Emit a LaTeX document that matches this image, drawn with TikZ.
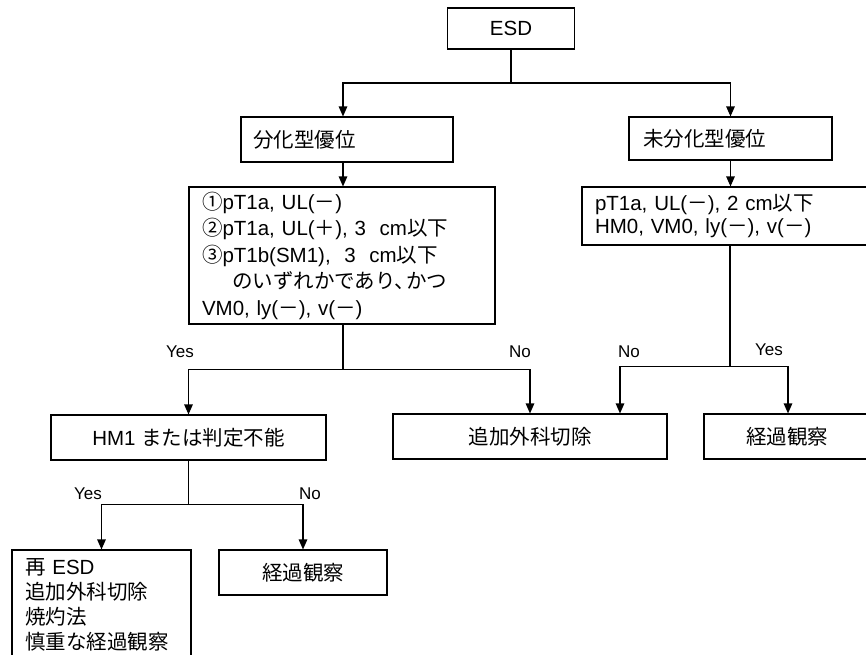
\documentclass[tikz,border=0pt]{standalone}
\usepackage{fontspec}
\setmainfont{Liberation Sans}
\newfontfamily\cjk{Noto Sans CJK JP}
\newcommand\J[1]{{\cjk #1}}
\usetikzlibrary{arrows.meta}
\begin{document}
\begin{tikzpicture}[x=1pt,y=-1pt,
  box/.style={draw,line width=1.1pt,inner sep=0pt,font=\fontsize{20.5}{26.5}\selectfont},
  lbox/.style={box,align=left,inner xsep=13pt},
  ln/.style={line width=1.2pt},
  arr/.style={line width=1.2pt,-{Triangle[length=10pt,width=8.5pt]}},
  lbl/.style={font=\fontsize{17}{20}\selectfont,inner sep=0pt}]
\useasboundingbox (0,0) rectangle (866,654);

\node[box,minimum width=127pt,minimum height=41pt] (esd) at (511,28.5) {ESD};
\node[lbox,inner xsep=12pt,text width=188pt,minimum height=45pt] (bunka) at (347,139.5) {\J{分化型優位}};
\node[lbox,inner xsep=14pt,text width=175pt,minimum height=43pt] (mibunka) at (730.5,138.5) {\J{未分化型優位}};
\node[lbox,text width=280pt,minimum height=137pt] (cond1) at (342,255.5) {%
\J{①}pT1a, UL(\J{－})\\
\J{②}pT1a, UL(\J{＋}), 3\ \ cm\J{以下}\\
\J{③}pT1b(SM1),\ \ 3\ \ cm\J{以下}\\
\hspace*{30pt}\J{のいずれかであり、\kern-9pt かつ}\\
VM0, ly(\J{－}), v(\J{－})};
\node[lbox,text width=262pt,minimum height=58pt,font=\fontsize{20.5}{23.5}\selectfont] (cond2) at (726,216) {%
pT1a, UL(\J{－}), 2 cm\J{以下}\\
HM0, VM0, ly(\J{－}), v(\J{－})};
\node[box,minimum width=275pt,minimum height=45pt] (hm1) at (188.5,437.5) {HM1 \J{または判定不能}};
\node[box,minimum width=274pt,minimum height=45pt] (surg) at (530,436.5) {\J{追加外科切除}};
\node[box,minimum width=166pt,minimum height=45pt] (obs1) at (787,436.5) {\J{経過観察}};
\node[lbox,text width=153pt,minimum height=110pt,font=\fontsize{20.5}{25}\selectfont] (reesd) at (101.5,605) {%
\J{再} ESD\\
\J{追加外科切除}\\
\J{焼灼法}\\
\J{慎重な経過観察}};
\node[box,minimum width=168pt,minimum height=45pt] (obs2) at (303,572.5) {\J{経過観察}};

\coordinate (j1) at (511,83);
\draw[ln] (esd.south) -- (j1);
\draw[arr] (j1) -| ([xshift=-4pt]bunka.north);
\draw[arr] (j1) -| (mibunka.north);
\draw[arr] ([xshift=-4pt]bunka.south) -- ([xshift=1pt]cond1.north);
\draw[arr] (mibunka.south) -- (mibunka.south |- cond2.north);

\draw[ln] ([xshift=1pt]cond1.south) -- ++(0,45) coordinate (j2);
\draw[arr] (j2) -| (hm1.north);
\draw[arr] (j2) -| (surg.north);
\node[lbl] (y1) at (180,352) {Yes};
\node[lbl] (n1) at (520,352) {No};

\draw[ln] ([xshift=4pt]cond2.south) -- ++(0,121) coordinate (j3);
\draw[arr] (j3) -| ([xshift=90pt]surg.north);
\draw[arr] (j3) -| ([xshift=1pt]obs1.north);
\node[lbl] (n2) at (629,352) {No};
\node[lbl] (y2) at (769,350) {Yes};

\draw[ln] (hm1.south) -- ++(0,44) coordinate (j4);
\draw[arr] (j4) -| (reesd.north);
\draw[arr] (j4) -| (obs2.north);
\node[lbl] (y3) at (88,494) {Yes};
\node[lbl] (n3) at (310,494) {No};
\end{tikzpicture}
\end{document}
